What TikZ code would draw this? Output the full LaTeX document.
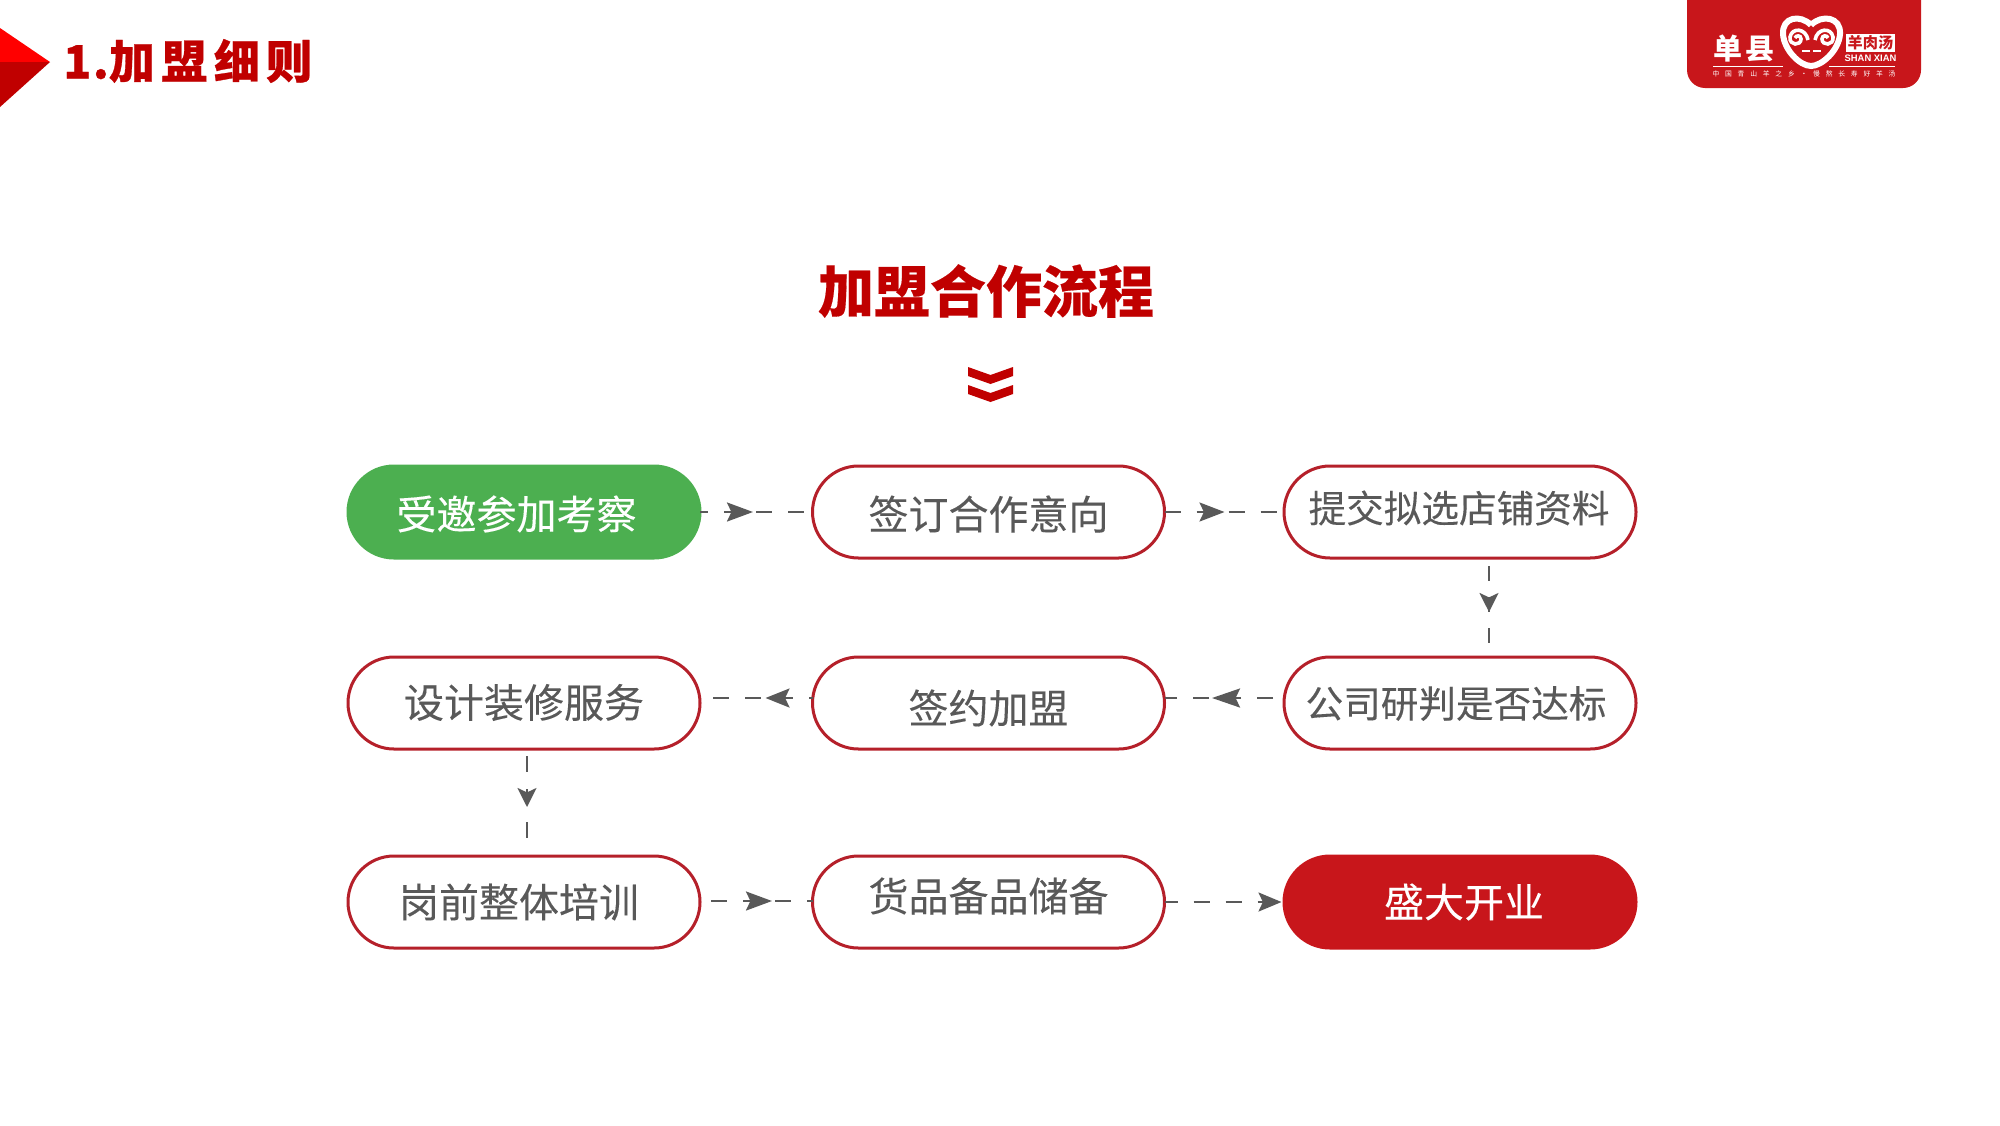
\documentclass[tikz,border=0pt]{standalone}
\usepackage{fontspec}
\setmainfont{Noto Sans CJK SC}
\newfontfamily\latinbold{Liberation Sans}
\usetikzlibrary{arrows.meta,shapes.misc,decorations.markings}
\definecolor{deepred}{HTML}{C00000}
\definecolor{ringred}{HTML}{B5202A}
\definecolor{openred}{HTML}{C8161B}
\definecolor{startgreen}{HTML}{4CAF50}
\definecolor{flowgrey}{HTML}{595959}
\tikzset{
	pill/.style={rounded rectangle,minimum width=176pt,minimum height=46pt,inner sep=0pt,outer sep=0pt,line width=1.5pt},
	plainpill/.style={pill,draw=ringred,fill=white},
	greenpill/.style={pill,draw=startgreen,fill=startgreen},
	redpill/.style={pill,draw=openred,fill=openred},
	plainpilltext/.style={text=flowgrey,inner sep=0pt},
	greenpilltext/.style={text=white,inner sep=0pt},
	redpilltext/.style={text=white,inner sep=0pt},
	flowline/.style={draw=flowgrey,line width=1.2pt,dash pattern=on 8pt off 8pt},
	arrowat/.style 2 args={postaction={decorate,decoration={markings,
		mark=at position #1 with {\arrow[solid]{Stealth[length=#2,width=9.5pt,inset=2.2pt]}}}}}
}
\begin{document}
\begin{tikzpicture}[x=0.5pt,y=-0.5pt]
	\useasboundingbox (0,0) rectangle (2000,1125);
	% corner mark and heading
	\fill[red] (0,28) -- (50,62) -- (0,62) -- cycle;
	\fill[deepred] (0,62) -- (50,62) -- (0,107) -- cycle;
	\node[anchor=west,inner sep=0pt,text=deepred,font=\fontsize{23}{28}\selectfont\bfseries\addfontfeature{LetterSpace=14,FakeBold=0.6}] (heading) at (63,61) {{\addfontfeature{LetterSpace=3}1.}加盟细则};
	% logo
	\fill[openred] (1687,0) [rounded corners=9pt] -- (1687,88) -- (1921,88) [sharp corners] -- (1921,0) -- cycle;
	\node[inner sep=0pt,text=white,font=\fontsize{14.5}{16}\selectfont\bfseries\addfontfeature{LetterSpace=10}] (brand) at (1744,48) {单县};
	\draw[white,line width=3pt] (1811,25) .. controls (1800,14) and (1782,17) .. (1783,34) .. controls (1784,50) and (1800,66) .. (1811,66) .. controls (1822,66) and (1839,50) .. (1840,34) .. controls (1841,17) and (1822,14) .. (1811,25);
	\draw[white,line width=1.8pt] (1808,40) .. controls (1806,28) and (1792,27) .. (1790,37) .. controls (1789,46) and (1801,46) .. (1801,39) .. controls (1801,35) and (1796,35) .. (1795,38);
	\draw[white,line width=1.8pt] (1815,40) .. controls (1817,28) and (1831,27) .. (1833,37) .. controls (1834,46) and (1822,46) .. (1822,39) .. controls (1822,35) and (1827,35) .. (1828,38);
	\foreach \xa/\xb in {1802/1810,1813/1821}
		\draw[white,line width=1pt] (\xa,51) -- (\xb,51);
	\node[fill=white,inner sep=0pt,minimum width=24.5pt,minimum height=9pt,text=openred,font=\fontsize{7.6}{9}\selectfont\bfseries] (soup) at (1870.5,43) {羊肉汤};
	\node[inner sep=0pt,text=white,font=\latinbold\fontsize{4.7}{6}\selectfont\bfseries] (pinyin) at (1870.5,58) {SHAN XIAN};
	\foreach \xa/\xb in {1713/1783,1829/1895}
		\draw[white,line width=0.5pt] (\xa,66) -- (\xb,66);
	\node[inner sep=0pt,text=white,font=\fontsize{3.4}{4}\selectfont\addfontfeature{LetterSpace=85}] (slogan) at (1804,74) {中国青山羊之乡·慢熬长寿好羊汤};
	% title
	\node[inner sep=0pt,text=deepred,font=\fontsize{28}{32}\selectfont\bfseries\addfontfeature{FakeBold=0.3}] (title) at (986,291) {加盟合作流程};
	\foreach \t in {0,18}
		\fill[deepred] (968,367+\t) -- (990.5,375+\t) -- (1013,367+\t) -- (1013,376+\t) -- (990.5,384+\t) -- (968,376+\t) -- cycle;
	% steps
	\foreach \name/\xc/\yc/\look/\xt/\yt/\size/\words in {
		invite/524/512/greenpill/516.5/514/20/受邀参加考察,
		intent/988.5/512/plainpill/988.5/514/20/签订合作意向,
		submit/1460/512/plainpill/1459/508/18.8/提交拟选店铺资料,
		design/524/703/plainpill/524/702.5/20/设计装修服务,
		sign/988.5/703/plainpill/988.5/708/20/签约加盟,
		review/1460/703/plainpill/1456/703.5/18.8/公司研判是否达标,
		train/524/902/plainpill/519/902/20/岗前整体培训,
		stock/988.5/902/plainpill/988.5/896/20/货品备品储备,
		grand/1460/902/redpill/1464/902/20/盛大开业}
	{
		\node[\look] (\name) at (\xc,\yc) {};
		\node[\look text,font=\fontsize{\size}{24}\selectfont\addfontfeature{FakeBold=0.15}] (\name text) at (\xt,\yt) {\words};
	}
	% connectors
	\draw[flowline,dash phase=4pt,shorten >=4.2pt,arrowat={26.5pt}{13pt}] (invite.east) -- (intent.west);
	\draw[flowline,shorten >=3.5pt,arrowat={30pt}{12.5pt}] (intent.east) -- (submit.west);
	\draw[flowline,dash pattern=on 7.5pt off 8pt,shorten <=4pt,shorten >=6.5pt,arrowat={27pt}{9.5pt}] ([xshift=14.5pt]submit.south) -- ([xshift=14.5pt]review.north);
	\draw[flowline,shorten <=5.5pt,arrowat={36pt}{14pt}] ([yshift=2.5pt]review.west) -- ([yshift=2.5pt]sign.east);
	\draw[flowline,dash phase=6pt,shorten >=5pt,arrowat={23.5pt}{12pt}] ([yshift=2.5pt]sign.west) -- ([yshift=2.5pt]design.east);
	\draw[flowline,dash pattern=on 8pt off 8.5pt,shorten <=3.5pt,shorten >=7pt,arrowat={29pt}{9.5pt}] ([xshift=1.5pt]design.south) -- ([xshift=1.5pt]train.north);
	\draw[flowline,shorten <=5.5pt,arrowat={36pt}{13pt}] ([yshift=0.5pt]train.east) -- ([yshift=0.5pt]stock.west);
	\draw[flowline,dash phase=1.5pt,arrowat={58.5pt}{11.5pt}] (stock.east) -- (grand.west);
\end{tikzpicture}
\end{document}
